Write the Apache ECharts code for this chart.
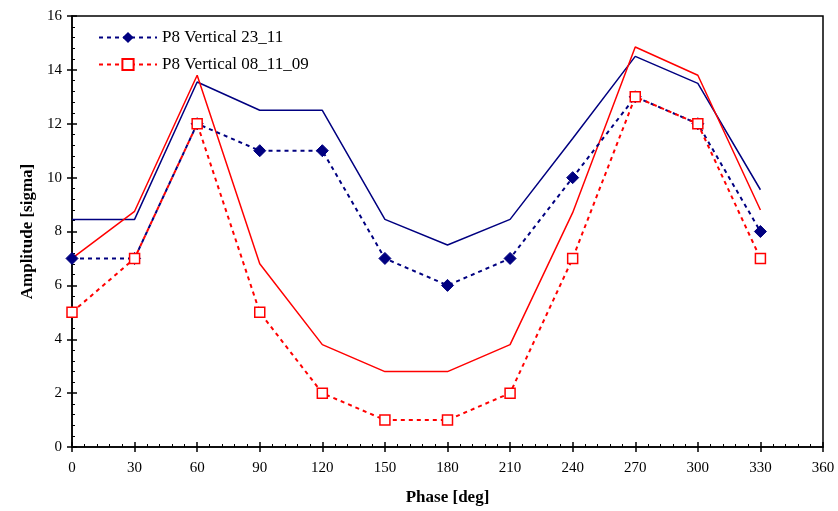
<!DOCTYPE html>
<html>
<head>
<meta charset="utf-8">
<script src="https://cdn.jsdelivr.net/npm/echarts@6/dist/echarts.min.js"></script>
<style>
html, body { margin: 0; padding: 0; background: #fff; }
#chart { width: 838px; height: 511px; }
</style>
</head>
<body>
<div id="chart"></div>
<script>
// phases (deg)
var phases = [0, 30, 60, 90, 120, 150, 180, 210, 240, 270, 300, 330];

// measured points
var vert2311 = [7, 7, 12, 11, 11, 7, 6, 7, 10, 13, 12, 8];
var vert081109 = [5, 7, 12, 5, 2, 1, 1, 2, 7, 13, 12, 7];

// solid lines (no legend)
var envBlue = [8.45, 8.45, 13.55, 12.5, 12.5, 8.45, 7.5, 8.45, 11.45, 14.5, 13.5, 9.55];
var envRed = [7, 8.75, 13.8, 6.8, 3.8, 2.8, 2.8, 3.8, 8.7, 14.85, 13.8, 8.8];

var NAVY = '#000080';
var RED = '#ff0000';
var FONT = 'Liberation Serif';

function pairs(ys) {
	var out = [];
	for (var i = 0; i < phases.length; i++) {
		out.push([phases[i], ys[i]]);
	}
	return out;
}

var myChart = echarts.init(document.getElementById('chart'));

var labelStyle = { color: '#000', fontFamily: FONT, fontSize: 15 };
var nameStyle = { color: '#000', fontFamily: FONT, fontSize: 17, fontWeight: 'bold' };

var chartOption = {
	animation: false,
	backgroundColor: '#fff',
	grid: { left: 72, right: 15, top: 16, bottom: 64, show: true, borderColor: '#000', borderWidth: 1.5 },
	legend: {
		data: ['P8 Vertical 23_11', 'P8 Vertical 08_11_09'],
		orient: 'vertical',
		left: 93,
		top: 24,
		itemWidth: 58,
		itemHeight: 14,
		itemGap: 10,
		textStyle: { color: '#000', fontFamily: FONT, fontSize: 17 }
	},
	xAxis: [
		{
			type: 'value', min: 0, max: 360, interval: 30,
			name: 'Phase [deg]', nameLocation: 'middle', nameGap: 42, nameTextStyle: nameStyle,
			axisLine: { onZero: false, lineStyle: { color: '#000', width: 1.5 } },
			axisTick: { show: true, inside: false, length: 5, lineStyle: { color: '#000', width: 1.5 } },
			axisLabel: Object.assign({ margin: 14 }, labelStyle),
			splitLine: { show: false }
		},
		{
			type: 'value', min: 0, max: 360, interval: 30, position: 'bottom',
			axisLine: { show: false },
			axisTick: { show: true, inside: true, length: 5, lineStyle: { color: '#000', width: 1.5 } },
			minorTick: { show: true, splitNumber: 5, length: 3, lineStyle: { color: '#000', width: 1 } },
			axisLabel: { show: false },
			splitLine: { show: false }
		}
	],
	yAxis: [
		{
			type: 'value', min: 0, max: 16, interval: 2,
			name: 'Amplitude [sigma]', nameLocation: 'middle', nameGap: 36, nameTextStyle: nameStyle,
			axisLine: { onZero: false, lineStyle: { color: '#000', width: 1.5 } },
			axisTick: { show: true, inside: false, length: 5, lineStyle: { color: '#000', width: 1.5 } },
			axisLabel: Object.assign({ margin: 10 }, labelStyle),
			splitLine: { show: false }
		},
		{
			type: 'value', min: 0, max: 16, interval: 2, position: 'left',
			axisLine: { show: false },
			axisTick: { show: true, inside: true, length: 5, lineStyle: { color: '#000', width: 1.5 } },
			minorTick: { show: true, splitNumber: 5, length: 3, lineStyle: { color: '#000', width: 1 } },
			axisLabel: { show: false },
			splitLine: { show: false }
		}
	],
	series: [
		{
			type: 'line', data: pairs(envBlue), showSymbol: false, symbol: 'none',
			lineStyle: { color: NAVY, width: 1.5 }, z: 2
		},
		{
			type: 'line', data: pairs(envRed), showSymbol: false, symbol: 'none',
			lineStyle: { color: RED, width: 1.5 }, z: 2
		},
		{
			name: 'P8 Vertical 23_11',
			type: 'line', data: pairs(vert2311),
			symbol: 'diamond', symbolSize: 12,
			itemStyle: { color: NAVY, borderColor: NAVY },
			lineStyle: { color: NAVY, width: 2, type: [4, 4] }, z: 3
		},
		{
			name: 'P8 Vertical 08_11_09',
			type: 'line', data: pairs(vert081109),
			symbol: 'rect', symbolSize: 10,
			itemStyle: { color: '#fff', borderColor: RED, borderWidth: 1.5 },
			lineStyle: { color: RED, width: 2, type: [4, 4] }, z: 4
		}
	]
};

myChart.setOption(chartOption);
</script>
</body>
</html>
